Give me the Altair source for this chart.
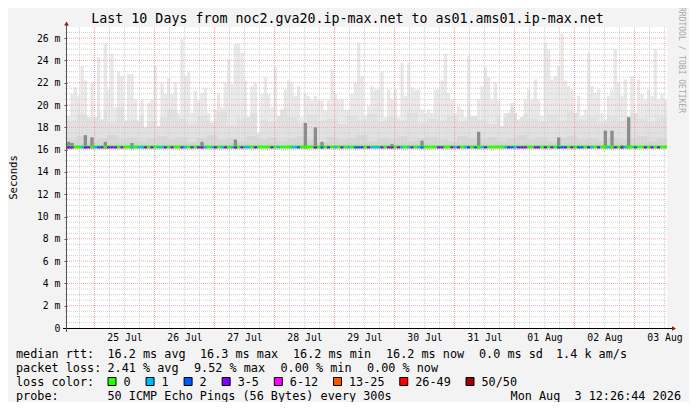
import json
import altair as alt
import pandas as pd

# ---------------- text ----------------
TITLE = "Last 10 Days from noc2.gva20.ip-max.net to as01.ams01.ip-max.net"
SIDE_TEXT = "RRDTOOL / TOBI OETIKER"
Y_TITLE = "Seconds"
DAY_LABELS = ["25 Jul", "26 Jul", "27 Jul", "28 Jul", "29 Jul",
              "30 Jul", "31 Jul", "01 Aug", "02 Aug", "03 Aug"]
Y_MAJOR = list(range(0, 27, 2))
Y_MAX = 27
HOURS = 240            # 10 days shown
FIRST_MIDNIGHT_H = 11  # hours from graph start to 25 Jul 00:00

RTT_LABEL = "median rtt:"
RTT_STATS = ["16.2 ms avg", "16.3 ms max", "16.2 ms min", "16.2 ms now", "0.0 ms sd", "1.4 k am/s"]
LOSS_LABEL = "packet loss:"
LOSS_STATS = ["2.41 % avg", "9.52 % max", "0.00 % min", "0.00 % now"]
COLOR_LABEL = "loss color:"
PROBE_LABEL = "probe:"
PROBE_TEXT = "50 ICMP Echo Pings (56 Bytes) every 300s"
STAMP = "Mon Aug\u00a0\u00a03 12:26:44 2026"

LOSS_LABELS = ["0", "1", "2", "3-5", "6-12", "13-25", "26-49", "50/50"]
LOSS_COLORS = ["#26ff00", "#00b8ff", "#0059ff", "#7e00ff", "#ff00ff", "#ff5500", "#ff0000", "#a10000"]

# ---------------- data (ms) ----------------
SMOKE_TOP = [
    19.0, 21.0, 21.6, 20.8, 23.5, 22.2, 18.9, 22.0, 18.9, 24.3,
    18.7, 25.5, 21.4, 24.6, 19.8, 23.0, 22.6, 18.6, 22.8, 22.8,
    20.5, 18.6, 20.5, 18.0, 20.2, 20.5, 23.5, 18.1, 22.0, 21.0,
    22.4, 21.0, 22.0, 19.3, 25.9, 22.6, 23.0, 19.3, 21.3, 20.5,
    21.1, 21.5, 19.3, 18.4, 19.6, 21.1, 19.8, 22.0, 24.1, 21.9,
    25.5, 25.5, 24.7, 22.2, 18.9, 21.7, 22.0, 17.5, 21.0, 22.5,
    21.0, 19.8, 23.4, 19.0, 19.6, 21.4, 22.2, 22.0, 20.8, 21.7,
    18.9, 21.0, 20.8, 20.5, 20.8, 20.5, 20.4, 19.5, 20.5, 23.2,
    21.0, 20.5, 20.5, 19.6, 19.6,
    21.0, 22.0, 25.6, 22.6, 19.0, 19.9, 21.7, 21.4, 21.4, 23.0,
    18.9, 21.4, 20.5, 21.4, 18.9, 23.8, 20.8, 23.8, 21.6, 21.4,
    21.4, 19.6, 19.3, 19.6, 19.3, 21.4, 21.4, 22.2, 24.6, 21.1,
    20.5, 19.3, 19.9, 19.6, 18.9, 24.4, 19.0, 19.0, 20.5, 21.7,
    23.4, 22.5, 20.5, 22.0, 20.5, 18.1, 19.3, 19.3, 20.2, 19.3,
    18.7, 18.9, 20.5, 21.4, 20.5, 22.3, 20.5, 19.0, 25.6, 25.0,
    22.3, 22.6, 23.5, 26.4, 22.2, 21.7, 21.4, 19.3, 20.8, 19.0,
    19.6, 24.7, 21.7, 21.1, 21.4, 19.3, 18.7, 20.8, 21.4, 25.0,
    22.0, 20.8, 22.3, 19.0, 22.6, 19.3, 22.3, 21.0, 20.5, 21.4,
    20.8, 25.0, 20.5, 21.0, 20.5,
]
SMOKE_MID = [
    18.6, 19.2, 18.9, 19.5, 18.4, 19.8, 18.7, 19.1, 18.5, 18.9,
    19.6, 18.8, 18.3, 19.0, 18.6, 19.4, 18.2, 18.8, 19.3, 18.7,
    18.5, 19.7, 18.9, 18.4, 19.1, 18.6, 18.8, 18.3, 19.0, 18.7,
    19.2, 18.5, 18.9, 18.6, 19.3, 18.4, 18.8, 18.6, 19.0, 18.5,
    19.5, 18.7, 18.3, 18.9, 19.8, 19.2, 18.8, 18.5, 19.1, 18.6,
    19.4, 18.7, 18.9, 18.4, 19.0, 18.6, 19.3, 18.8, 18.5, 18.9,
]
SMOKE_LOW = [
    16.9, 17.2, 16.8, 17.0, 17.3, 16.9, 17.1, 16.8, 17.0, 17.2,
    16.9, 17.1, 16.7, 17.0, 17.3, 16.9, 17.0, 16.8, 17.2, 16.9,
    17.1, 16.8, 17.0, 17.2, 16.9, 16.7, 17.1, 16.9, 17.0, 17.3,
    16.8, 17.0, 16.9, 17.2, 16.8, 17.0, 17.1, 16.9, 16.8, 17.2,
    17.0, 16.9, 17.1, 16.8, 17.0, 17.3, 16.9, 17.1, 16.8, 17.0,
    17.2, 16.9, 17.0, 16.8, 17.1, 16.9, 17.0, 17.2, 16.8, 17.0,
]
SMOKE_MIN = 16.1
MEDIAN_RTT = 16.2
LOSS_CODE = ("3300133012" "3033303001" "0113030113" "0300310303" "3101301301" "30311030000"
             "3010001120" "0003020301" "0301022303" "1113033031" "0130120000" "3300313013"
             "0201300000" "1321333003" "3030302230" "3022031030" "0103031002" "003030300")
SPIKE_COLS = [0, 1, 5, 7, 11, 19, 40, 50, 71, 74, 76, 97, 106, 123, 147, 161, 163, 166, 168]
SPIKE_VALS = [16.7, 16.6, 17.3, 17.1, 16.7, 16.6, 16.7, 16.9, 18.4, 18.0, 16.7, 16.5, 16.8,
              17.6, 17.1, 17.7, 17.7, 16.4, 18.9]

N = len(SMOKE_TOP)
assert N == 180 and len(LOSS_CODE) == 180
STEP = HOURS / N

# ---------------- layout ----------------
W, H = 600, 301
OX, OY = 67, 27   # page position of plot origin
FONT = "DejaVu Sans Mono"
SVG_W, SVG_H = 681, 394


def px(x):
    return x - OX


def py(y):
    return y - OY


cols = pd.DataFrame({
    "x": [i * STEP for i in range(N)],
    "x2": [(i + 1) * STEP for i in range(N)],
    "top": SMOKE_TOP,
    "mid": [min(SMOKE_TOP[i], SMOKE_MID[i // 3]) for i in range(N)],
    "low": [min(SMOKE_TOP[i], SMOKE_LOW[i // 3]) for i in range(N)],
    "base": [SMOKE_MIN] * N,
    "med": [MEDIAN_RTT] * N,
    "medg": [MEDIAN_RTT + 0.08] * N,
    "loss": [LOSS_LABELS[int(c)] for c in LOSS_CODE],
})
spikes = pd.DataFrame({
    "x": [c * STEP for c in SPIKE_COLS],
    "x2": [(c + 1) * STEP for c in SPIKE_COLS],
    "v": SPIKE_VALS,
    "base": [SMOKE_MIN] * len(SPIKE_COLS),
})

XS = alt.Scale(domain=[0, HOURS], nice=False, zero=False)
YS = alt.Scale(domain=[0, Y_MAX], nice=False, zero=False)

x_axis = alt.Axis(
    values=[FIRST_MIDNIGHT_H + 12 + 24 * k for k in range(len(DAY_LABELS))],
    labelExpr=f"{json.dumps(DAY_LABELS)}[round((datum.value - {FIRST_MIDNIGHT_H + 12}) / 24)]",
    tickSize=0, labelPadding=4, domain=False, grid=False, title=None,
    labelFont=FONT, labelFontSize=9.8, labelColor="black", labelFlush=False,
)
y_axis = alt.Axis(
    values=Y_MAJOR,
    labelExpr="datum.value == 0 ? '0' : datum.value + ' m'",
    tickSize=3, tickColor="#555555", labelPadding=4, domain=False, grid=False, title=None,
    labelFont=FONT, labelFontSize=9.8, labelColor="black",
)

base = alt.Chart(cols)
light = base.mark_rect(color="#e8e8e8").encode(
    x=alt.X("x:Q", scale=XS, axis=x_axis), x2="x2:Q",
    y=alt.Y("top:Q", scale=YS, axis=y_axis), y2="base:Q")
mid = base.mark_rect(color="#e0e0e0").encode(
    x=alt.X("x:Q", scale=XS, axis=None), x2="x2:Q",
    y=alt.Y("mid:Q", scale=YS, axis=None), y2="base:Q")
low = base.mark_rect(color="#d6d6d6").encode(
    x=alt.X("x:Q", scale=XS, axis=None), x2="x2:Q",
    y=alt.Y("low:Q", scale=YS, axis=None), y2="base:Q")
spk = alt.Chart(spikes).mark_rect(color="#8c8c8c").encode(
    x=alt.X("x:Q", scale=XS, axis=None), x2="x2:Q",
    y=alt.Y("v:Q", scale=YS, axis=None), y2="base:Q")

h_minor = pd.DataFrame({"v": [k * 0.5 for k in range(1, Y_MAX * 2) if k % 4 != 0]})
h_major = pd.DataFrame({"v": [v for v in Y_MAJOR if v > 0]})
v_major = pd.DataFrame({"h": [FIRST_MIDNIGHT_H + 24 * k for k in range(10)]})
v_minor = pd.DataFrame({"h": [h for h in range(FIRST_MIDNIGHT_H % 6, HOURS, 6)
                              if (h - FIRST_MIDNIGHT_H) % 24 != 0]})

MINOR = dict(color="#d0d0d0", strokeDash=[1, 1], strokeWidth=1)
MAJOR = dict(color="#ffa0a0", strokeDash=[1, 1], strokeWidth=1)
g_hmin = alt.Chart(h_minor).mark_rule(**MINOR).encode(
    y=alt.Y("v:Q", scale=YS, axis=None), x=alt.value(-2), x2=alt.value(W))
g_vmin = alt.Chart(v_minor).mark_rule(**MINOR).encode(
    x=alt.X("h:Q", scale=XS, axis=None), y=alt.value(0), y2=alt.value(H))
g_hmaj = alt.Chart(h_major).mark_rule(**MAJOR).encode(
    y=alt.Y("v:Q", scale=YS, axis=None), x=alt.value(0), x2=alt.value(W))
g_vmaj = alt.Chart(v_major).mark_rule(**MAJOR).encode(
    x=alt.X("h:Q", scale=XS, axis=None), y=alt.value(0), y2=alt.value(H))

median_g = base.mark_rule(strokeWidth=2, color=LOSS_COLORS[0]).encode(
    x=alt.X("x:Q", scale=XS, axis=None), x2="x2:Q",
    y=alt.Y("medg:Q", scale=YS, axis=None))
median = base.mark_rule(strokeWidth=2).encode(
    x=alt.X("x:Q", scale=XS, axis=None), x2="x2:Q",
    y=alt.Y("med:Q", scale=YS, axis=None),
    color=alt.Color("loss:N", scale=alt.Scale(domain=LOSS_LABELS, range=LOSS_COLORS), legend=None))

dummy = pd.DataFrame({"a": [0]})
xline = alt.Chart(dummy).mark_rule(color="#000000", strokeWidth=1).encode(
    x=alt.value(-4), x2=alt.value(W + 6), y=alt.value(H + 0.5))
yline = alt.Chart(dummy).mark_rule(color="#555555", strokeWidth=1).encode(
    x=alt.value(-0.5), y=alt.value(H + 4), y2=alt.value(-3))
arrow_r = alt.Chart(dummy).mark_point(shape="triangle-right", filled=True, color="#8b1a1a",
                                      size=22, opacity=1).encode(x=alt.value(W + 7), y=alt.value(H + 0.5))
arrow_u = alt.Chart(dummy).mark_point(shape="triangle-up", filled=True, color="#8b1a1a",
                                      size=22, opacity=1).encode(x=alt.value(-0.5), y=alt.value(-3.5))


def txt(s, x, y, size=11.8, align="left", angle=0, color="black"):
    kw = dict(text=s, font=FONT, fontSize=size, align=align, baseline="middle", color=color)
    if angle:
        kw["angle"] = angle
    return alt.Chart(dummy).mark_text(**kw).encode(x=alt.value(x), y=alt.value(y))


layers = [light, mid, low, g_hmin, g_vmin, g_hmaj, g_vmaj, spk, median_g, median,
          xline, yline, arrow_r, arrow_u]

layers.append(txt(TITLE, px(347.5), py(19), size=13.3, align="center"))
layers.append(txt(SIDE_TEXT, px(681), py(60), size=8.0, align="center", angle=90, color="#a8a8a8"))
layers.append(txt(Y_TITLE, px(13.5), py(177.5), size=10.6, align="center", angle=270))

ROW_Y = [354, 367.5, 381.5, 395.5]
LABEL_X = 16
CHAR_W = 7.05

layers.append(txt(RTT_LABEL, px(LABEL_X), py(ROW_Y[0])))
for s, xx in zip(RTT_STATS, [107.5, 200, 293, 386, 479, 556]):
    layers.append(txt(s, px(xx), py(ROW_Y[0])))

layers.append(txt(LOSS_LABEL, px(LABEL_X), py(ROW_Y[1])))
for s, xx in zip(LOSS_STATS, [107.5, 194, 280.5, 367]):
    layers.append(txt(s, px(xx), py(ROW_Y[1])))

layers.append(txt(COLOR_LABEL, px(LABEL_X), py(ROW_Y[2])))
bx = 108
for lab, col in zip(LOSS_LABELS, LOSS_COLORS):
    layers.append(alt.Chart(dummy).mark_rect(fill=col, stroke="black", strokeWidth=1).encode(
        x=alt.value(px(bx)), x2=alt.value(px(bx + 8)),
        y=alt.value(py(ROW_Y[2]) - 4), y2=alt.value(py(ROW_Y[2]) + 4)))
    lx = bx + 15.5
    layers.append(txt(lab, px(lx), py(ROW_Y[2])))
    bx = lx + len(lab) * CHAR_W + 15.5

layers.append(txt(PROBE_LABEL, px(LABEL_X), py(ROW_Y[3])))
layers.append(txt(PROBE_TEXT, px(107.5), py(ROW_Y[3])))
layers.append(txt(STAMP, px(681), py(ROW_Y[3]), align="right"))

chart = alt.layer(*layers).resolve_axis(x="independent", y="independent").properties(
    width=W, height=H,
    padding={"left": OX - 8, "top": OY - 8,
             "right": SVG_W - (OX - 8) - W, "bottom": SVG_H - (OY - 8) - H},
    autosize=alt.AutoSizeParams(type="none"),
    background="#f3f3f3",
).configure_view(strokeWidth=0, fill="white")

chart.save("out.html", embed_options={"renderer": "svg", "actions": False})
